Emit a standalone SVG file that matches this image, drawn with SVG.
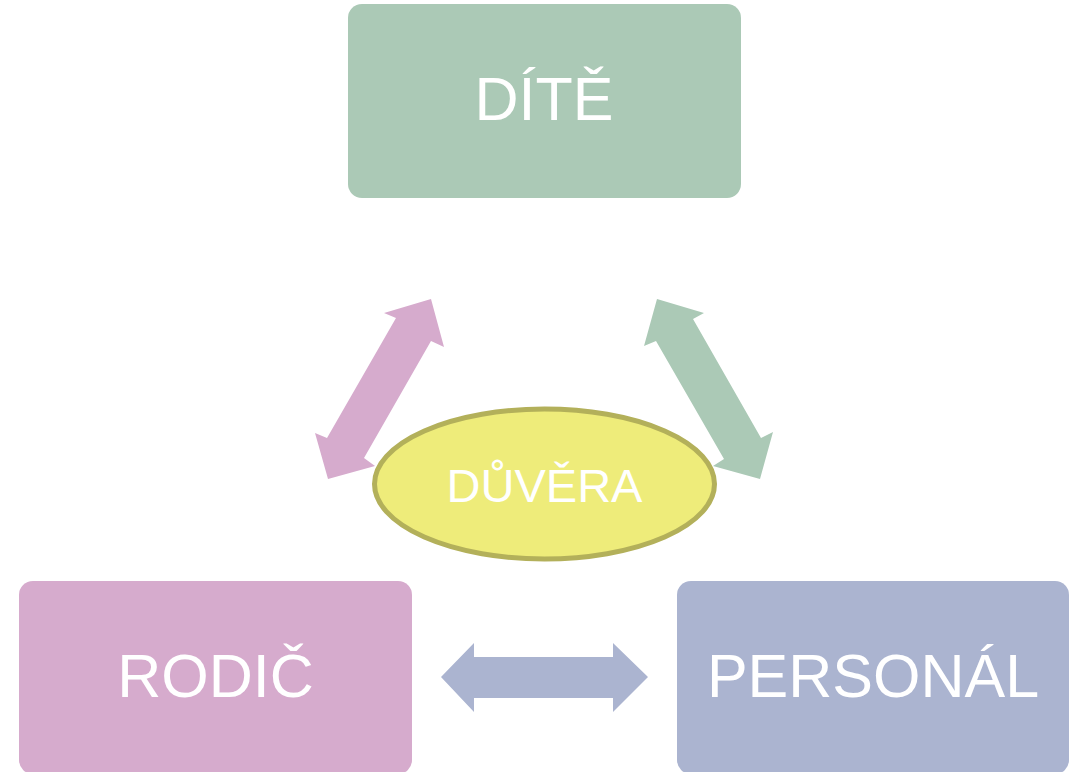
<svg xmlns="http://www.w3.org/2000/svg" width="1077" height="772" viewBox="0 0 1077 772">
<style>
.lbl{font-family:"Liberation Sans",Arial,sans-serif;fill:#ffffff;text-anchor:middle}
.big{font-size:61px}
</style>
<rect width="1077" height="772" fill="#ffffff"/>
<g id="connectors">
<polygon id="arr-rodic-dite" fill="#d6abcd" points="431,299 444,347 431,341 364,458 375,466 328,479 315,433 327,438 396,318 384,313"/>
<polygon id="arr-dite-personal" fill="#abc9b6" points="657,299 704,313 693,319 761,438 773,432 760,479 713,466 724,459 656,341 644,346"/>
<polygon id="arr-rodic-personal" fill="#abb4d0" points="441,677 474,643 474,657 613,657 613,643 648,677 613,712 613,698 474,698 474,712"/>
</g>
<g id="node-dite">
<rect x="348" y="4" width="393" height="194" rx="14" fill="#abc9b6"/>
<text class="lbl big" x="544" y="120">DÍTĚ</text>
</g>
<g id="node-rodic">
<rect x="19" y="581" width="393" height="193" rx="14" fill="#d6abcd"/>
<text class="lbl big" x="215.5" y="697">RODIČ</text>
</g>
<g id="node-personal">
<rect x="677" y="581" width="392" height="193" rx="14" fill="#abb4d0"/>
<text class="lbl big" x="873" y="697">PERSONÁL</text>
</g>
<g id="node-duvera">
<ellipse cx="544.5" cy="484" rx="170" ry="75" fill="#eeec7a" stroke="#b3b05a" stroke-width="5"/>
<text class="lbl" x="544.5" y="502" font-size="47">DŮVĚRA</text>
</g>
</svg>
